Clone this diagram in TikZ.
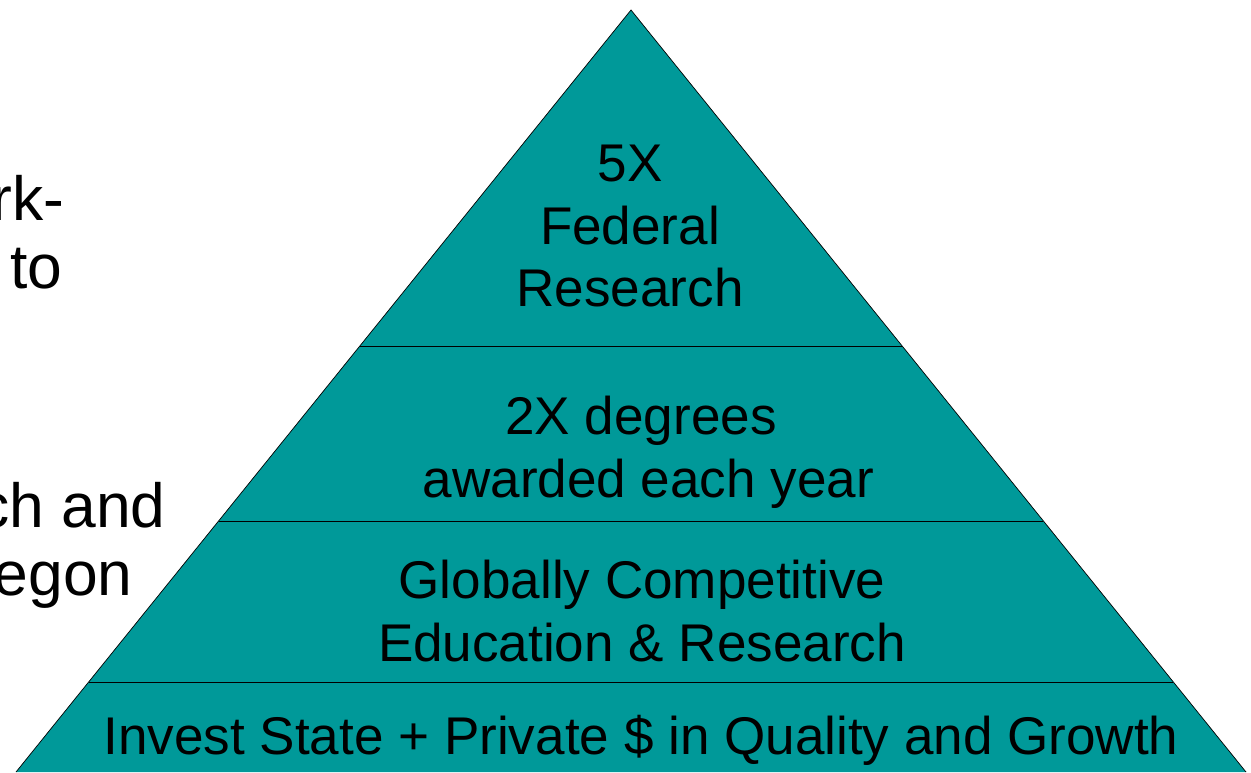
\documentclass[tikz,border=0pt]{standalone}
\usepackage{fontspec}
\setmainfont{Liberation Sans}
\usetikzlibrary{calc}
\definecolor{pyrteal}{RGB}{0,153,153}
\tikzset{
  layertext/.style={align=center,inner sep=0pt,font=\fontsize{30.2}{35.8}\selectfont},
  sidetext/.style={inner sep=0pt,font=\fontsize{35.5}{40}\selectfont}
}

\begin{document}
\begin{tikzpicture}[x=0.02cm,y=-0.02cm]
                \useasboundingbox (0,0) rectangle (1251,772);
                \coordinate (apex) at (631,10);
                \coordinate (bl) at (16,772);
                \coordinate (br) at (1246,772);
                \fill[pyrteal] (apex) -- (bl) -- (br) -- cycle;
                \draw (bl) -- (apex) -- (br);
                \foreach \f in {0.441,0.6706,0.8819}
                  \draw ($(apex)!\f!(bl)$) -- ($(apex)!\f!(br)$);
                \node[layertext] (top) at (630,226) {5X\\Federal\\Research};
                \node[layertext] (degrees) at (641,452) {2X degrees\\\ awarded each year};
                \node[layertext] (edu) at (642,611) {Globally Competitive\\Education \& Research};
                \node[layertext] (invest) at (641,740) {Invest State + Private \$ in Quality and Growth};
                \node[sidetext,anchor=base east] (work) at (65,220) {rk-};
                \node[sidetext,anchor=base east] (to) at (63,288) {to};
                \node[sidetext,anchor=base east] (and) at (166,527) {ch and};
                \node[sidetext,anchor=base east] (egon) at (133,595) {egon};
            \end{tikzpicture}
\end{document}
